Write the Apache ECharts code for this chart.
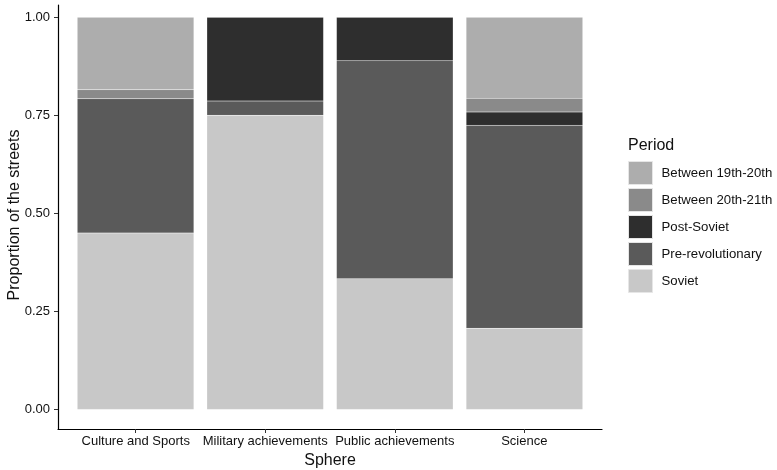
<!DOCTYPE html>
<html>
<head>
<meta charset="utf-8">
<script src="https://cdn.jsdelivr.net/npm/echarts@6/dist/echarts.min.js"></script>
<style>
html,body{margin:0;padding:0;background:#fff;}
#chart{width:777px;height:470px;}
</style>
</head>
<body>
<div id="chart"></div>
<script>
const categories = ['Culture and Sports', 'Military achievements', 'Public achievements', 'Science'];
const periods = ['Between 19th-20th', 'Between 20th-21th', 'Post-Soviet', 'Pre-revolutionary', 'Soviet'];
// values per category (stacked bottom-to-top: Soviet, Pre-revolutionary, Post-Soviet, Between 20th-21th, Between 19th-20th)
const soviet           = [0.450, 0.750, 0.333, 0.207];
const preRevolutionary = [0.342, 0.036, 0.556, 0.517];
const postSoviet       = [0.000, 0.214, 0.111, 0.034];
const between20_21     = [0.023, 0.000, 0.000, 0.035];
const between19_20     = [0.185, 0.000, 0.000, 0.207];
const yTicks = [0, 0.25, 0.5, 0.75, 1];
const yTickLabels = ['0.00', '0.25', '0.50', '0.75', '1.00'];
const xTicks = [0, 1, 2, 3];

const colors = {
  'Between 19th-20th': '#adadad',
  'Between 20th-21th': '#8a8a8a',
  'Post-Soviet': '#2e2e2e',
  'Pre-revolutionary': '#5a5a5a',
  'Soviet': '#c8c8c8'
};

const stackOrder = [
  ['Soviet', soviet],
  ['Pre-revolutionary', preRevolutionary],
  ['Post-Soviet', postSoviet],
  ['Between 20th-21th', between20_21],
  ['Between 19th-20th', between19_20]
];

const FONT = 'Liberation Sans, Arial, Helvetica, sans-serif';
const TOP = 5, HEIGHT = 424, YMIN = -0.05, YMAX = 1.031;

const series = stackOrder.map(([name, vals]) => ({
  name: name,
  type: 'bar',
  stack: 'total',
  xAxisIndex: 0,
  yAxisIndex: 0,
  barWidth: '90%',
  data: vals,
  itemStyle: { color: colors[name], borderColor: 'rgba(255,255,255,0.12)', borderWidth: 0.5 },
  emphasis: { disabled: true }
}));

const chart = echarts.init(document.getElementById('chart'), null, { renderer: 'canvas' });
chart.setOption({
  animation: false,
  backgroundColor: '#ffffff',
  grid: [
    { left: 70.75, top: TOP, width: 518.5, height: HEIGHT },
    { left: 58, top: TOP, width: 544, height: HEIGHT }
  ],
  xAxis: [
    { type: 'category', gridIndex: 0, data: categories, boundaryGap: true, show: false },
    {
      type: 'value', gridIndex: 1, min: -0.6, max: 3.6,
      splitLine: { show: false },
      axisLine: { show: true, onZero: false, lineStyle: { color: '#000', width: 1.2 } },
      axisTick: { show: true, length: 4, customValues: xTicks, lineStyle: { color: '#333', width: 1 } },
      axisLabel: {
        customValues: xTicks,
        formatter: v => categories[Math.round(v)],
        color: '#111', fontSize: 13, fontFamily: FONT, margin: 6
      }
    }
  ],
  yAxis: [
    { type: 'value', gridIndex: 0, min: YMIN, max: YMAX, show: false, splitLine: { show: false } },
    {
      type: 'value', gridIndex: 1, min: YMIN, max: YMAX,
      splitLine: { show: false },
      axisLine: { show: true, onZero: false, lineStyle: { color: '#000', width: 1.2 } },
      axisTick: { show: true, length: 4, customValues: yTicks, lineStyle: { color: '#333', width: 1 } },
      axisLabel: {
        customValues: yTicks,
        formatter: v => yTickLabels[yTicks.indexOf(Math.round(v * 100) / 100)],
        color: '#111', fontSize: 13, fontFamily: FONT, margin: 8
      }
    }
  ],
  legend: {
    orient: 'vertical',
    left: 628,
    top: 161,
    padding: 0,
    itemWidth: 24,
    itemHeight: 23,
    itemGap: 3,
    icon: 'rect',
    data: periods,
    selectedMode: false,
    itemStyle: { borderColor: '#e6e6e6', borderWidth: 1 },
    textStyle: { color: '#111', fontSize: 13.2, fontFamily: FONT, padding: [0, 0, 0, 4] }
  },
  graphic: [
    { type: 'text', left: 628, top: 138, style: { text: 'Period', fontSize: 16, fontFamily: FONT, fill: '#111' } },
    { type: 'text', x: 15, y: 215, rotation: Math.PI / 2, style: { text: 'Proportion of the streets', fontSize: 16, fontFamily: FONT, fill: '#111', align: 'center', verticalAlign: 'middle' } },
    { type: 'text', x: 330, y: 461, style: { text: 'Sphere', fontSize: 16, fontFamily: FONT, fill: '#111', align: 'center', verticalAlign: 'middle' } }
  ],
  series: series
});
</script>
</body>
</html>
